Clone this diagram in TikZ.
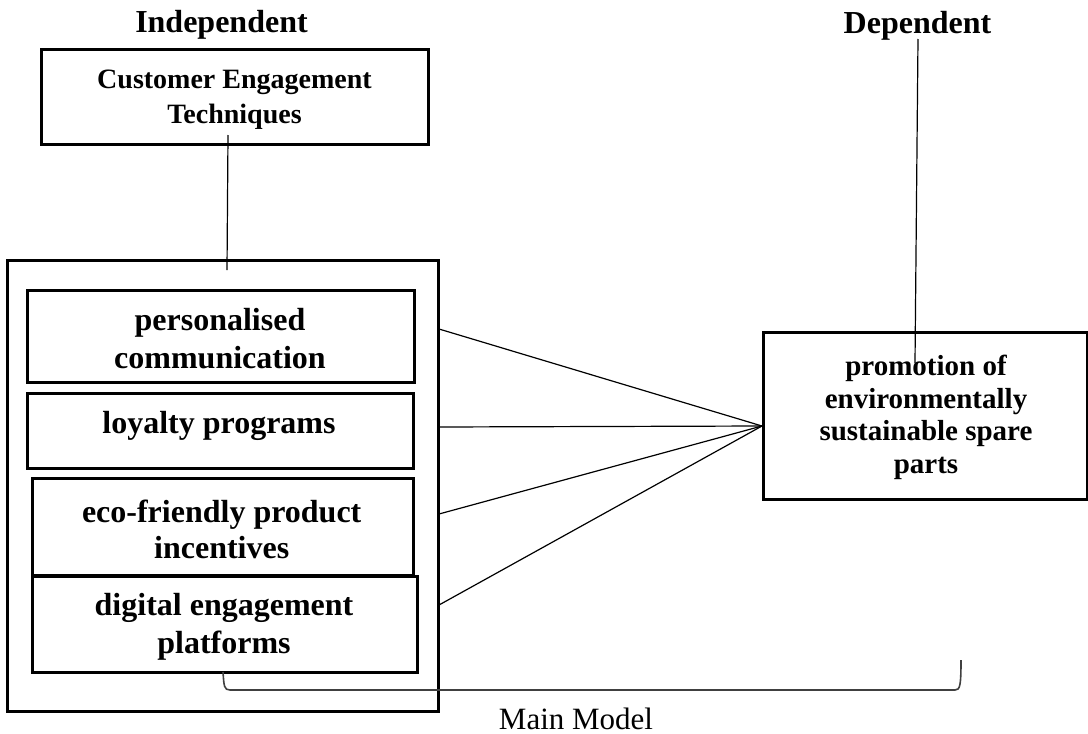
\documentclass[tikz,border=0pt]{standalone}
\usepackage{fontspec}
\setmainfont{Liberation Serif}
\begin{document}
\begin{tikzpicture}[x=1pt,y=-1pt,
  box/.style={draw, line width=3pt, inner sep=0pt, rectangle},
  txt/.style={inner sep=0pt, align=center, anchor=base, font=\bfseries\fontsize{32}{38}\selectfont},
  conn/.style={line width=1.2pt},
  bracketline/.style={line width=1.6pt, draw=black!75}]
\useasboundingbox (0,0) rectangle (1088,734);
% headings
\node[txt] (indep) at (221.5,32) {Independent};
\node[txt] (dep) at (917.5,33) {Dependent};
% top box
\node[box, minimum width=387pt, minimum height=95pt] (cet) at (234.5,96.5) {};
\node[txt, font=\bfseries\fontsize{28}{35}\selectfont] (cett) at (234.5,123) {Customer Engagement\\Techniques};
% outer box
\node[box, minimum width=431pt, minimum height=451pt] (outer) at (222.5,485.5) {};
% inner boxes
\node[box, minimum width=387pt, minimum height=92pt] (b1) at (220.5,336) {};
\node[txt] (t1) at (220,368) {personalised\\communication};
\node[box, minimum width=386pt, minimum height=75pt] (b2) at (220,430.5) {};
\node[txt] (t2) at (219,433) {loyalty programs};
\node[box, minimum width=381pt, minimum height=97pt] (b3) at (222.5,526.5) {};
\node[txt, font=\bfseries\fontsize{32}{36}\selectfont] (t3) at (221.7,558) {eco-friendly product\\incentives};
\node[box, minimum width=385pt, minimum height=96pt] (b4) at (224.5,624) {};
\node[txt] (t4) at (224,653) {digital engagement\\platforms};
% right box
\node[box, minimum width=324pt, minimum height=167pt] (rb) at (925,415.5) {};
\node[txt, font=\bfseries\fontsize{29}{32.5}\selectfont] (rbt) at (926,473) {promotion of\\environmentally\\sustainable spare\\parts};
% connectors
\coordinate (c1) at (228,135);
\coordinate (c2) at (227,270);
\draw[conn] (c1) -- (c2);
\coordinate (d1) at (918,39);
\coordinate (d2) at (915,363);
\draw[conn] (d1) -- (d2);
\coordinate (conv) at (762,426);
\coordinate (f1) at (439,329);
\coordinate (f2) at (439,427);
\coordinate (f3) at (439,514);
\coordinate (f4) at (439,605);
\draw[conn] (f1) -- (conv);
\draw[conn] (f2) -- (conv);
\draw[conn] (f3) -- (conv);
\draw[conn] (f4) -- (conv);
% bracket
\coordinate (bl) at (223,672);
\coordinate (br) at (961,660);
\draw[bracketline] (bl) .. controls (224,686) and (224,690) .. (230,690) -- (955,690) .. controls (960,690) and (961,686) .. (br);
% caption
\node[inner sep=0pt, anchor=base, font=\fontsize{31}{36}\selectfont] (mm) at (576,729) {Main Model};
\end{tikzpicture}
\end{document}
